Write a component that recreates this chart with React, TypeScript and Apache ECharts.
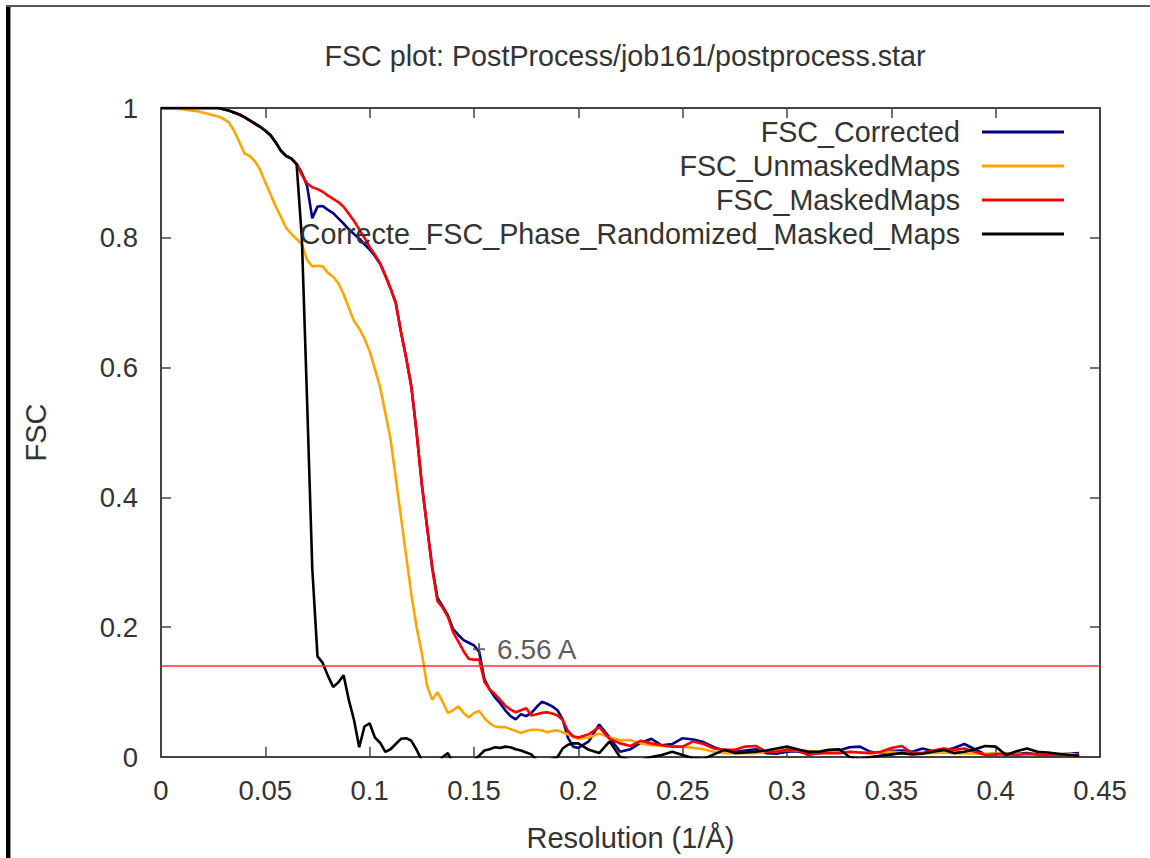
import { useEffect, useRef } from "react";
import * as echarts from "echarts";

// Spatial frequency of each Fourier shell (1/Å)
const resolution = [
  0, 0.0025, 0.005, 0.0075, 0.01, 0.0125, 0.015, 0.0175, 0.02, 0.0225,
  0.025, 0.0275, 0.03, 0.0325, 0.035, 0.0375, 0.04, 0.0425, 0.045, 0.0475,
  0.05, 0.0525, 0.055, 0.0575, 0.06, 0.0625, 0.065, 0.0675, 0.07, 0.0725,
  0.075, 0.0775, 0.08, 0.0825, 0.085, 0.0875, 0.09, 0.0925, 0.095, 0.0975,
  0.1, 0.1025, 0.105, 0.1075, 0.11, 0.1125, 0.115, 0.1175, 0.12, 0.1225,
  0.125, 0.1275, 0.13, 0.1325, 0.135, 0.1375, 0.14, 0.1425, 0.145, 0.1475,
  0.15, 0.1525, 0.155, 0.1575, 0.16, 0.1625, 0.165, 0.1675, 0.17, 0.1725,
  0.175, 0.1775, 0.18, 0.1825, 0.185, 0.1875, 0.19, 0.1925, 0.195, 0.1975,
  0.2,
  0.205, 0.21, 0.215, 0.22,
  0.225, 0.23, 0.235, 0.24, 0.245, 0.25, 0.255, 0.26, 0.265, 0.27,
  0.275, 0.28, 0.285, 0.29, 0.295, 0.3, 0.305, 0.31, 0.315, 0.32,
  0.325, 0.33, 0.335, 0.34, 0.345, 0.35, 0.355, 0.36, 0.365, 0.37,
  0.375, 0.38, 0.385, 0.39, 0.395, 0.4, 0.405, 0.41, 0.415, 0.42,
  0.425, 0.43, 0.435, 0.44,
];

const fscCorrected = [
  1, 1, 1, 1, 1, 1, 1, 1, 1, 1,
  1, 1, 0.998, 0.996, 0.993, 0.99, 0.986, 0.981, 0.976, 0.971,
  0.965, 0.958, 0.947, 0.934, 0.926, 0.922, 0.914, 0.9, 0.88, 0.83,
  0.848, 0.849, 0.843, 0.838, 0.83, 0.822, 0.813, 0.806, 0.799, 0.79,
  0.782, 0.772, 0.76, 0.742, 0.722, 0.7, 0.655, 0.615, 0.57, 0.5,
  0.42, 0.355, 0.292, 0.245, 0.232, 0.218, 0.197, 0.188, 0.18, 0.176,
  0.172, 0.162, 0.12, 0.104, 0.092, 0.083, 0.072, 0.063, 0.058, 0.066,
  0.063, 0.068, 0.077, 0.085, 0.082, 0.078, 0.072, 0.058, 0.03, 0.016,
  0.014,
  0.024, 0.05, 0.03, 0.008,
  0.012, 0.022, 0.028, 0.018, 0.02, 0.029, 0.027, 0.023, 0.015, 0.01,
  0.008, 0.01, 0.012, 0.006, 0.005, 0.008, 0.009, 0.005, 0.006, 0.007,
  0.01, 0.015, 0.016, 0.008, 0.006, 0.009, 0.01, 0.008, 0.013, 0.009,
  0.01, 0.014, 0.02, 0.012, 0.004, 0.005, 0.004, 0.005, 0.006, 0.004,
  0.005, 0.004, 0.005, 0.006,
];

const fscUnmaskedMaps = [
  1, 1, 0.999, 0.999, 0.998, 0.997, 0.996, 0.995, 0.993, 0.991,
  0.989, 0.987, 0.983, 0.978, 0.965, 0.948, 0.93, 0.926, 0.918, 0.905,
  0.885, 0.867, 0.848, 0.832, 0.815, 0.806, 0.798, 0.79, 0.766, 0.756,
  0.757, 0.756, 0.746, 0.74, 0.73, 0.713, 0.692, 0.672, 0.66, 0.645,
  0.625, 0.598, 0.57, 0.53, 0.49, 0.43, 0.37, 0.31, 0.25, 0.2,
  0.16, 0.11, 0.088, 0.1, 0.085, 0.068, 0.072, 0.078, 0.068, 0.061,
  0.068, 0.071, 0.06, 0.052, 0.047, 0.046, 0.046, 0.043, 0.04, 0.037,
  0.04, 0.042, 0.042, 0.041, 0.038, 0.04, 0.041, 0.038, 0.035, 0.031,
  0.028,
  0.03, 0.036, 0.03, 0.026,
  0.026, 0.021, 0.018, 0.017, 0.016, 0.016, 0.014, 0.012, 0.008, 0.006,
  0.006, 0.006, 0.006, 0.008, 0.009, 0.011, 0.01, 0.009, 0.008, 0.008,
  0.008, 0.007, 0.007, 0.006, 0.007, 0.008, 0.007, 0.006, 0.006, 0.006,
  0.007, 0.006, 0.006, 0.005, 0.005, 0.005, 0.006, 0.005, 0.004, 0.005,
  0.006, 0.004, 0.005, 0.003,
];

const fscMaskedMaps = [
  1, 1, 1, 1, 1, 1, 1, 1, 1, 1,
  1, 1, 0.998, 0.996, 0.993, 0.99, 0.986, 0.981, 0.976, 0.971,
  0.965, 0.958, 0.947, 0.934, 0.926, 0.922, 0.914, 0.897, 0.884, 0.878,
  0.875, 0.871, 0.865, 0.86, 0.855, 0.848, 0.837, 0.826, 0.813, 0.8,
  0.786, 0.774, 0.761, 0.742, 0.722, 0.7, 0.655, 0.615, 0.57, 0.5,
  0.42, 0.355, 0.29, 0.24, 0.23, 0.216, 0.192, 0.178, 0.163, 0.151,
  0.15, 0.15, 0.116, 0.104, 0.097, 0.088, 0.079, 0.073, 0.069, 0.072,
  0.075, 0.064, 0.066, 0.068, 0.069, 0.067, 0.064, 0.057, 0.04, 0.032,
  0.03,
  0.035, 0.046, 0.028, 0.021,
  0.017, 0.025, 0.021, 0.018, 0.016, 0.016, 0.024, 0.02, 0.013, 0.011,
  0.011, 0.016, 0.017, 0.008, 0.008, 0.011, 0.011, 0.003, 0.006, 0.006,
  0.006, 0.008, 0.007, 0.006, 0.008, 0.014, 0.017, 0.006, 0.006, 0.01,
  0.013, 0.011, 0.013, 0.008, 0.003, 0.004, 0.005, 0.003, 0.005, 0.004,
  0.003, 0.004, 0.003, 0.002,
];

const fscPhaseRandomized = [
  1, 1, 1, 1, 1, 1, 1, 1, 1, 1,
  1, 1, 0.998, 0.996, 0.993, 0.99, 0.986, 0.981, 0.976, 0.971,
  0.965, 0.958, 0.947, 0.934, 0.926, 0.922, 0.913, 0.8, 0.55, 0.29,
  0.155, 0.145, 0.125, 0.108, 0.115, 0.126, 0.088, 0.057, 0.015, 0.047,
  0.052, 0.03, 0.022, 0.008, 0.012, 0.02, 0.028, 0.029, 0.025, 0.011,
  -0.005, -0.02, -0.02, -0.01, 0.0, 0.006, -0.01, -0.02, -0.015, -0.01,
  -0.005, 0.002, 0.01, 0.012, 0.015, 0.014, 0.016, 0.015, 0.012, 0.01,
  0.007, 0.004, -0.005, -0.01, -0.008, -0.003, 0.0, 0.013, 0.019, 0.021,
  0.021,
  0.011, 0.006, 0.024, 0.0,
  -0.005, -0.005, 0.0, 0.003, 0.008, 0.003, -0.002, -0.003, 0.004, 0.011,
  0.006, 0.007, 0.008, 0.01, 0.013, 0.016, 0.012, 0.008, 0.008, 0.011,
  0.012, 0.0, -0.003, 0.0, 0.002, 0.004, 0.006, 0.004, 0.005, 0.008,
  0.011, 0.006, 0.008, 0.012, 0.017, 0.016, 0.003, 0.009, 0.013, 0.008,
  0.007, 0.005, 0.003, 0.002,
];

const seriesNames = [
  "FSC_Corrected",
  "FSC_UnmaskedMaps",
  "FSC_MaskedMaps",
  "Correcte_FSC_Phase_Randomized_Masked_Maps",
];
const seriesValues = [fscCorrected, fscUnmaskedMaps, fscMaskedMaps, fscPhaseRandomized];
const seriesColors = ["#00008b", "#ffa500", "#ff0000", "#000000"];

// Gold-standard FSC cut-off and the resolution where the masked curve meets it
const fscThreshold = 0.143;
const resolutionAngstrom = 6.56;

const FONT = "'Liberation Sans', Arial, Helvetica, sans-serif";
const TEXT_COLOR = "#333";
const FRAME_COLOR = "#444";

const plusIcon =
  "path://M5,0 L7,0 L7,5 L12,5 L12,7 L7,7 L7,12 L5,12 L5,7 L0,7 L0,5 L5,5 Z";

function axisCommon(show: boolean) {
  return {
    axisLine: { show: true, onZero: false, lineStyle: { color: FRAME_COLOR, width: 2 } },
    axisTick: { show: true, inside: true, length: 10, lineStyle: { color: FRAME_COLOR, width: 1.5 } },
    splitLine: { show: false },
    axisLabel: { show, fontSize: 27.5, color: TEXT_COLOR, fontFamily: FONT },
  };
}

export default function App() {
  const ref = useRef<HTMLDivElement>(null);

  useEffect(() => {
    if (!ref.current) return;
    const chart = echarts.init(ref.current, null, { renderer: "svg" });

    const lineSeries = seriesNames.map((name, i) => ({
      name,
      type: "line",
      data: resolution.map((r, j) => [r, seriesValues[i][j]]),
      showSymbol: false,
      symbol: "none",
      clip: true,
      z: 2,
      lineStyle: { color: seriesColors[i], width: 2.6 },
      itemStyle: { color: seriesColors[i] },
      emphasis: { disabled: true },
      ...(i === 2
        ? {
            markLine: {
              silent: true,
              symbol: ["none", "none"],
              label: { show: false },
              lineStyle: { color: "#ff3030", width: 1.6, type: "solid" },
              data: [{ yAxis: fscThreshold }],
            },
          }
        : {}),
    }));

    chart.setOption({
      animation: false,
      backgroundColor: "#ffffff",
      textStyle: { fontFamily: FONT },
      title: {
        text: "FSC plot: PostProcess/job161/postprocess.star",
        left: 625,
        top: 41,
        textAlign: "center",
        padding: 0,
        textStyle: { fontSize: 28.7, fontWeight: "normal", color: TEXT_COLOR, fontFamily: FONT },
      },
      legend: {
        data: seriesNames,
        orient: "vertical",
        align: "right",
        right: 86,
        top: 115,
        padding: 0,
        itemGap: 0,
        itemWidth: 82,
        itemHeight: 3,
        icon: "rect",
        selectedMode: false,
        textStyle: {
          fontSize: 28.7,
          color: TEXT_COLOR,
          fontFamily: FONT,
          lineHeight: 34,
          padding: [0, 17, 0, 0],
        },
      },
      grid: { left: 161, right: 50, top: 108, bottom: 101, containLabel: false },
      xAxis: [
        {
          type: "value",
          position: "bottom",
          min: 0,
          max: 0.45,
          interval: 0.05,
          name: "Resolution (1/Å)",
          nameLocation: "middle",
          nameGap: 66,
          nameTextStyle: { fontSize: 29, color: TEXT_COLOR, fontFamily: FONT },
          ...axisCommon(true),
          axisLabel: { ...axisCommon(true).axisLabel, margin: 19 },
        },
        {
          type: "value",
          position: "top",
          min: 0,
          max: 0.45,
          interval: 0.05,
          ...axisCommon(false),
        },
      ],
      yAxis: [
        {
          type: "value",
          position: "left",
          min: 0,
          max: 1,
          interval: 0.2,
          name: "FSC",
          nameLocation: "middle",
          nameRotate: 90,
          nameGap: 111,
          nameTextStyle: { fontSize: 29, color: TEXT_COLOR, fontFamily: FONT },
          ...axisCommon(true),
          axisLabel: { ...axisCommon(true).axisLabel, margin: 23 },
        },
        {
          type: "value",
          position: "right",
          min: 0,
          max: 1,
          interval: 0.2,
          ...axisCommon(false),
        },
      ],
      series: [
        ...lineSeries,
        {
          name: "resolution-marker",
          type: "scatter",
          data: [[1 / resolutionAngstrom, fscThreshold]],
          symbol: plusIcon,
          symbolSize: 12,
          symbolOffset: [0, -15],
          itemStyle: { color: "#444" },
          z: 5,
          silent: true,
          label: {
            show: true,
            position: "right",
            distance: 12,
            formatter: `${resolutionAngstrom} A`,
            fontSize: 28,
            color: TEXT_COLOR,
            fontFamily: FONT,
          },
        },
      ],
      graphic: [
        { type: "rect", left: 6, top: 5, shape: { width: 1144, height: 2 }, style: { fill: "#58574f" }, silent: true },
        { type: "rect", left: 6, top: 7, shape: { width: 4, height: 851 }, style: { fill: "#000" }, silent: true },
        { type: "rect", left: 10, top: 7, shape: { width: 1, height: 851 }, style: { fill: "#8a8a8a" }, silent: true },
      ],
    });

    return () => chart.dispose();
  }, []);

  return (
    <div
      ref={ref}
      style={{ position: "fixed", left: 0, top: 0, width: 1150, height: 858, background: "#fff" }}
    />
  );
}
